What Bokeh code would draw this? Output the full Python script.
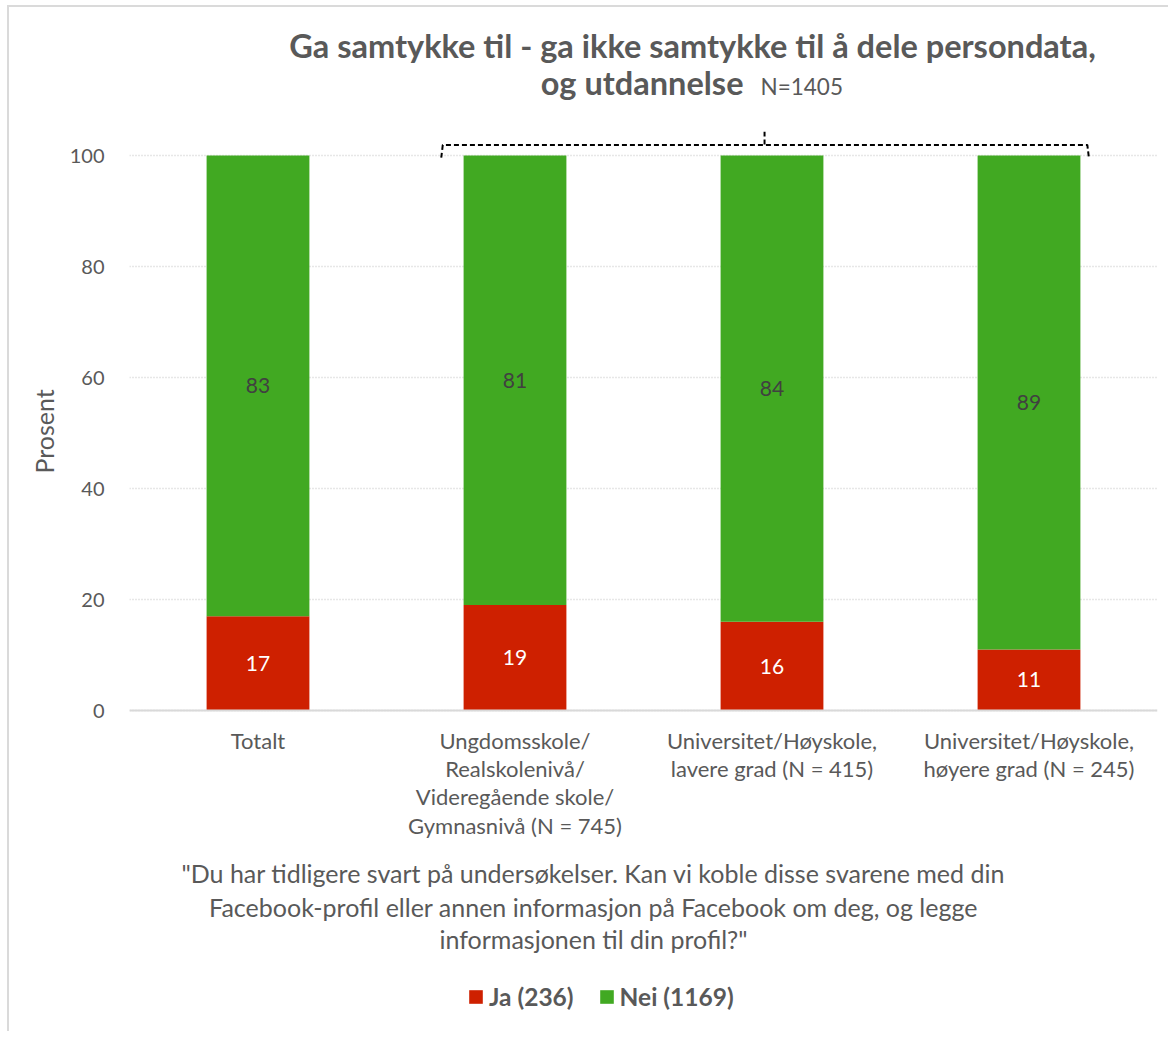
import math
from bokeh.plotting import figure
from bokeh.models import (ColumnDataSource, FactorRange, Range1d, FixedTicker, Label,
                          Legend, LegendItem, Title, Span)
from bokeh.core.properties import value
from bokeh.embed import file_html
from bokeh.resources import INLINE

# ---- data ----
categories = [
    "Totalt",
    "Ungdomsskole/\nRealskolenivå/\nVideregående skole/\nGymnasnivå (N = 745)",
    "Universitet/Høyskole,\nlavere grad (N = 415)",
    "Universitet/Høyskole,\nhøyere grad (N = 245)",
]
ja = [17, 19, 16, 11]
nei = [83, 81, 84, 89]
series_names = ["Ja (236)", "Nei (1169)"]
y_ticks = [0, 20, 40, 60, 80, 100]
title_line1 = "Ga samtykke til - ga ikke samtykke til å dele persondata,"
title_line2 = "og utdannelse"
title_n = "N=1405"
footnote = [
    "\"Du har tidligere svart på undersøkelser. Kan vi koble disse svarene med din",
    "Facebook-profil eller annen informasjon på Facebook om deg, og legge",
    "informasjonen til din profil?\"",
]
y_label = "Prosent"

RED = "#CE2000"
GREEN = "#41A922"
GREY = "#595959"
FONT = "Lato"

W, H = 1168, 1031
FRAME_LEFT, FRAME_RIGHT = 129, 1157
ZERO_Y, HUNDRED_Y = 710, 155          # pixel rows of 0 and 100
PX = (ZERO_Y - HUNDRED_Y) / 100.0

src = ColumnDataSource(dict(
    cat=categories, ja=ja, nei=nei,
    ja_mid=[v / 2 for v in ja],
    nei_mid=[a + b / 2 for a, b in zip(ja, nei)],
    ja_txt=[str(v) for v in ja],
    nei_txt=[str(v) for v in nei],
    zero=[0] * len(categories),
))

p = figure(width=W, height=H, output_backend="svg", toolbar_location=None,
           title=None, x_axis_location=None,
           x_range=FactorRange(*categories, range_padding=0),
           y_range=Range1d(-(H - ZERO_Y) / PX, ZERO_Y / PX))
p.min_border_left = FRAME_LEFT
p.min_border_right = W - FRAME_RIGHT
p.min_border_top = 0
p.min_border_bottom = 0
p.outline_line_color = None
p.background_fill_color = None
p.border_fill_color = None
p.styles = {
    "background": "linear-gradient(#dadada, #dadada) 7px 5px / 2px 100% no-repeat, "
                  "linear-gradient(#dadada, #dadada) 7px 5px / 100% 2px no-repeat, white",
}

p.ygrid.ticker = FixedTicker(ticks=y_ticks)
p.ygrid.grid_line_color = "#cfcfcf"
p.ygrid.grid_line_dash = "1 2"
p.ygrid.grid_line_width = 1.5
p.xgrid.grid_line_color = None

rs = p.vbar_stack(["ja", "nei"], x="cat", width=0.4, color=[RED, GREEN],
                  line_color=None, source=src)

# category axis baseline
p.add_layout(Span(location=0, dimension="width", line_color="#d9d9d9", line_width=2))

p.text(x="cat", y="ja_mid", text="ja_txt", source=src, text_align="center",
       text_baseline="middle", text_color="white", text_font=value(FONT),
       text_font_size="21px")
p.text(x="cat", y="nei_mid", text="nei_txt", source=src, text_align="center",
       text_baseline="middle", text_color="#404040", text_font=value(FONT),
       text_font_size="21px")

# category labels under the baseline
p.text(x="cat", y="zero", text="cat", source=src, text_align="center",
       text_baseline="top", y_offset=16, text_color=GREY, text_font=value(FONT),
       text_font_size="22px", text_line_height=1.05)

# bracket over the three education groups
p.multi_line(xs=[[1.213, 1.219, 3.727, 3.733], [2.471, 2.471]],
             ys=[[99.6, 101.9, 101.9, 99.6], [102.0, 104.3]],
             line_color="black", line_width=2, line_dash="5 3")

# y axis
p.yaxis.ticker = FixedTicker(ticks=y_ticks)
p.yaxis.axis_line_color = None
p.yaxis.major_tick_line_color = None
p.yaxis.minor_tick_line_color = None
p.yaxis.major_tick_out = 0
p.yaxis.major_tick_in = 0
p.yaxis.major_label_standoff = 25
p.yaxis.major_label_text_font = FONT
p.yaxis.major_label_text_font_size = "20px"
p.yaxis.major_label_text_color = GREY

p.add_layout(Title(text=y_label, align="left", offset=H - 473, standoff=16,
                   text_font=FONT, text_font_size="25px", text_font_style="normal",
                   text_color=GREY), "left")

# title
def sx(px):
    return px - FRAME_LEFT

def sy(py):
    return H - py

p.add_layout(Label(x=sx(692), y=sy(45), x_units="screen", y_units="screen", text=title_line1,
                   text_align="center", text_baseline="alphabetic", text_font=FONT,
                   text_font_size="32.5px", text_font_style="bold", text_color=GREY))
p.add_layout(Label(x=sx(743), y=sy(82), x_units="screen", y_units="screen", text=title_line2,
                   text_align="right", text_baseline="alphabetic", text_font=FONT,
                   text_font_size="32.5px", text_font_style="bold", text_color=GREY))
p.add_layout(Label(x=sx(760), y=sy(86), x_units="screen", y_units="screen", text=title_n,
                   text_align="left", text_baseline="alphabetic", text_font=FONT,
                   text_font_size="22.5px", text_color=GREY))

# footnote
for line, py in zip(footnote, [872, 906, 938]):
    p.add_layout(Label(x=sx(593), y=sy(py), x_units="screen", y_units="screen",
                       text=line, text_align="center", text_baseline="middle",
                       text_font=FONT, text_font_size="25px", text_color=GREY))

legend = Legend(items=[LegendItem(label=series_names[0], renderers=[rs[0]]),
                       LegendItem(label=series_names[1], renderers=[rs[1]])],
                location=(sx(467), 20), orientation="horizontal",
                glyph_width=17, glyph_height=17, label_standoff=5, spacing=24,
                padding=0, margin=0, border_line_color=None, background_fill_alpha=0,
                label_text_font=FONT, label_text_font_size="24.5px",
                label_text_font_style="bold", label_text_color=GREY)
p.add_layout(legend)

open("out.html", "w").write(file_html(p, INLINE))
